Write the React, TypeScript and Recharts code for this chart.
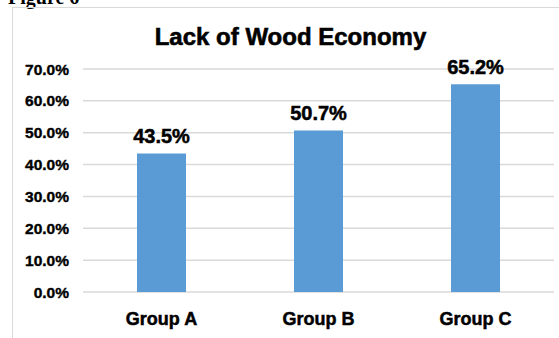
import { BarChart, Bar, XAxis, YAxis, CartesianGrid, LabelList } from 'recharts'

const groups = ['Group A', 'Group B', 'Group C']
const shares = [0.435, 0.507, 0.652]
const yTicks = [0, 0.1, 0.2, 0.3, 0.4, 0.5, 0.6, 0.7]

const rows = groups.map((g, i) => ({ group: g, share: shares[i] }))

const pct = (v: number) => `${(v * 100).toFixed(1)}%`
const font = 'Arial, "Liberation Sans", sans-serif'
// heavier look, the original text is almost black-weight
const heavy = { fontWeight: 700, fill: '#000', fontFamily: font, stroke: '#000', strokeWidth: 0.5 }

export default function App() {
  return (
    <div style={{ position: 'fixed', left: 0, top: 0, width: 559, height: 338, background: '#fff', overflow: 'hidden' }}>
      <div style={{ position: 'absolute', left: 8, top: -14, fontFamily: '"Liberation Serif", serif', fontWeight: 700, fontSize: 20 }}>Figure 6</div>
      <div style={{ position: 'absolute', left: 12, top: 7, width: 600, height: 400, border: '1.5px solid #d9d9d9' }} />
      <div style={{ position: 'absolute', left: 0, top: 23, width: 559, textAlign: 'center', paddingLeft: 22, boxSizing: 'border-box', fontFamily: font, fontWeight: 700, fontSize: 24, color: '#000', WebkitTextStroke: '0.6px #000' }}>
        Lack of Wood Economy
      </div>
      <div style={{ position: 'absolute', left: 0, top: 0 }}>
        <BarChart width={559} height={338} data={rows} margin={{ top: 69, right: 5, bottom: 10, left: 0 }} barSize={49}>
          <CartesianGrid vertical={false} stroke="#d9d9d9" strokeWidth={1.5} />
          <XAxis
            dataKey="group"
            axisLine={false}
            tickLine={false}
            tickSize={0}
            tickMargin={20}
            height={36}
            tick={{ fontSize: 18, ...heavy }}
          />
          <YAxis
            domain={[0, 0.7]}
            ticks={yTicks}
            tickFormatter={pct}
            axisLine={false}
            tickLine={false}
            tickSize={0}
            tickMargin={14}
            width={83}
            tick={{ fontSize: 15.5, ...heavy, strokeWidth: 0.4 }}
          />
          <Bar dataKey="share" fill="#5b9bd5" isAnimationActive={false}>
            <LabelList dataKey="share" position="top" offset={10} formatter={(v: number) => pct(v)} style={{ fontSize: 20, ...heavy }} />
          </Bar>
        </BarChart>
      </div>
    </div>
  )
}
